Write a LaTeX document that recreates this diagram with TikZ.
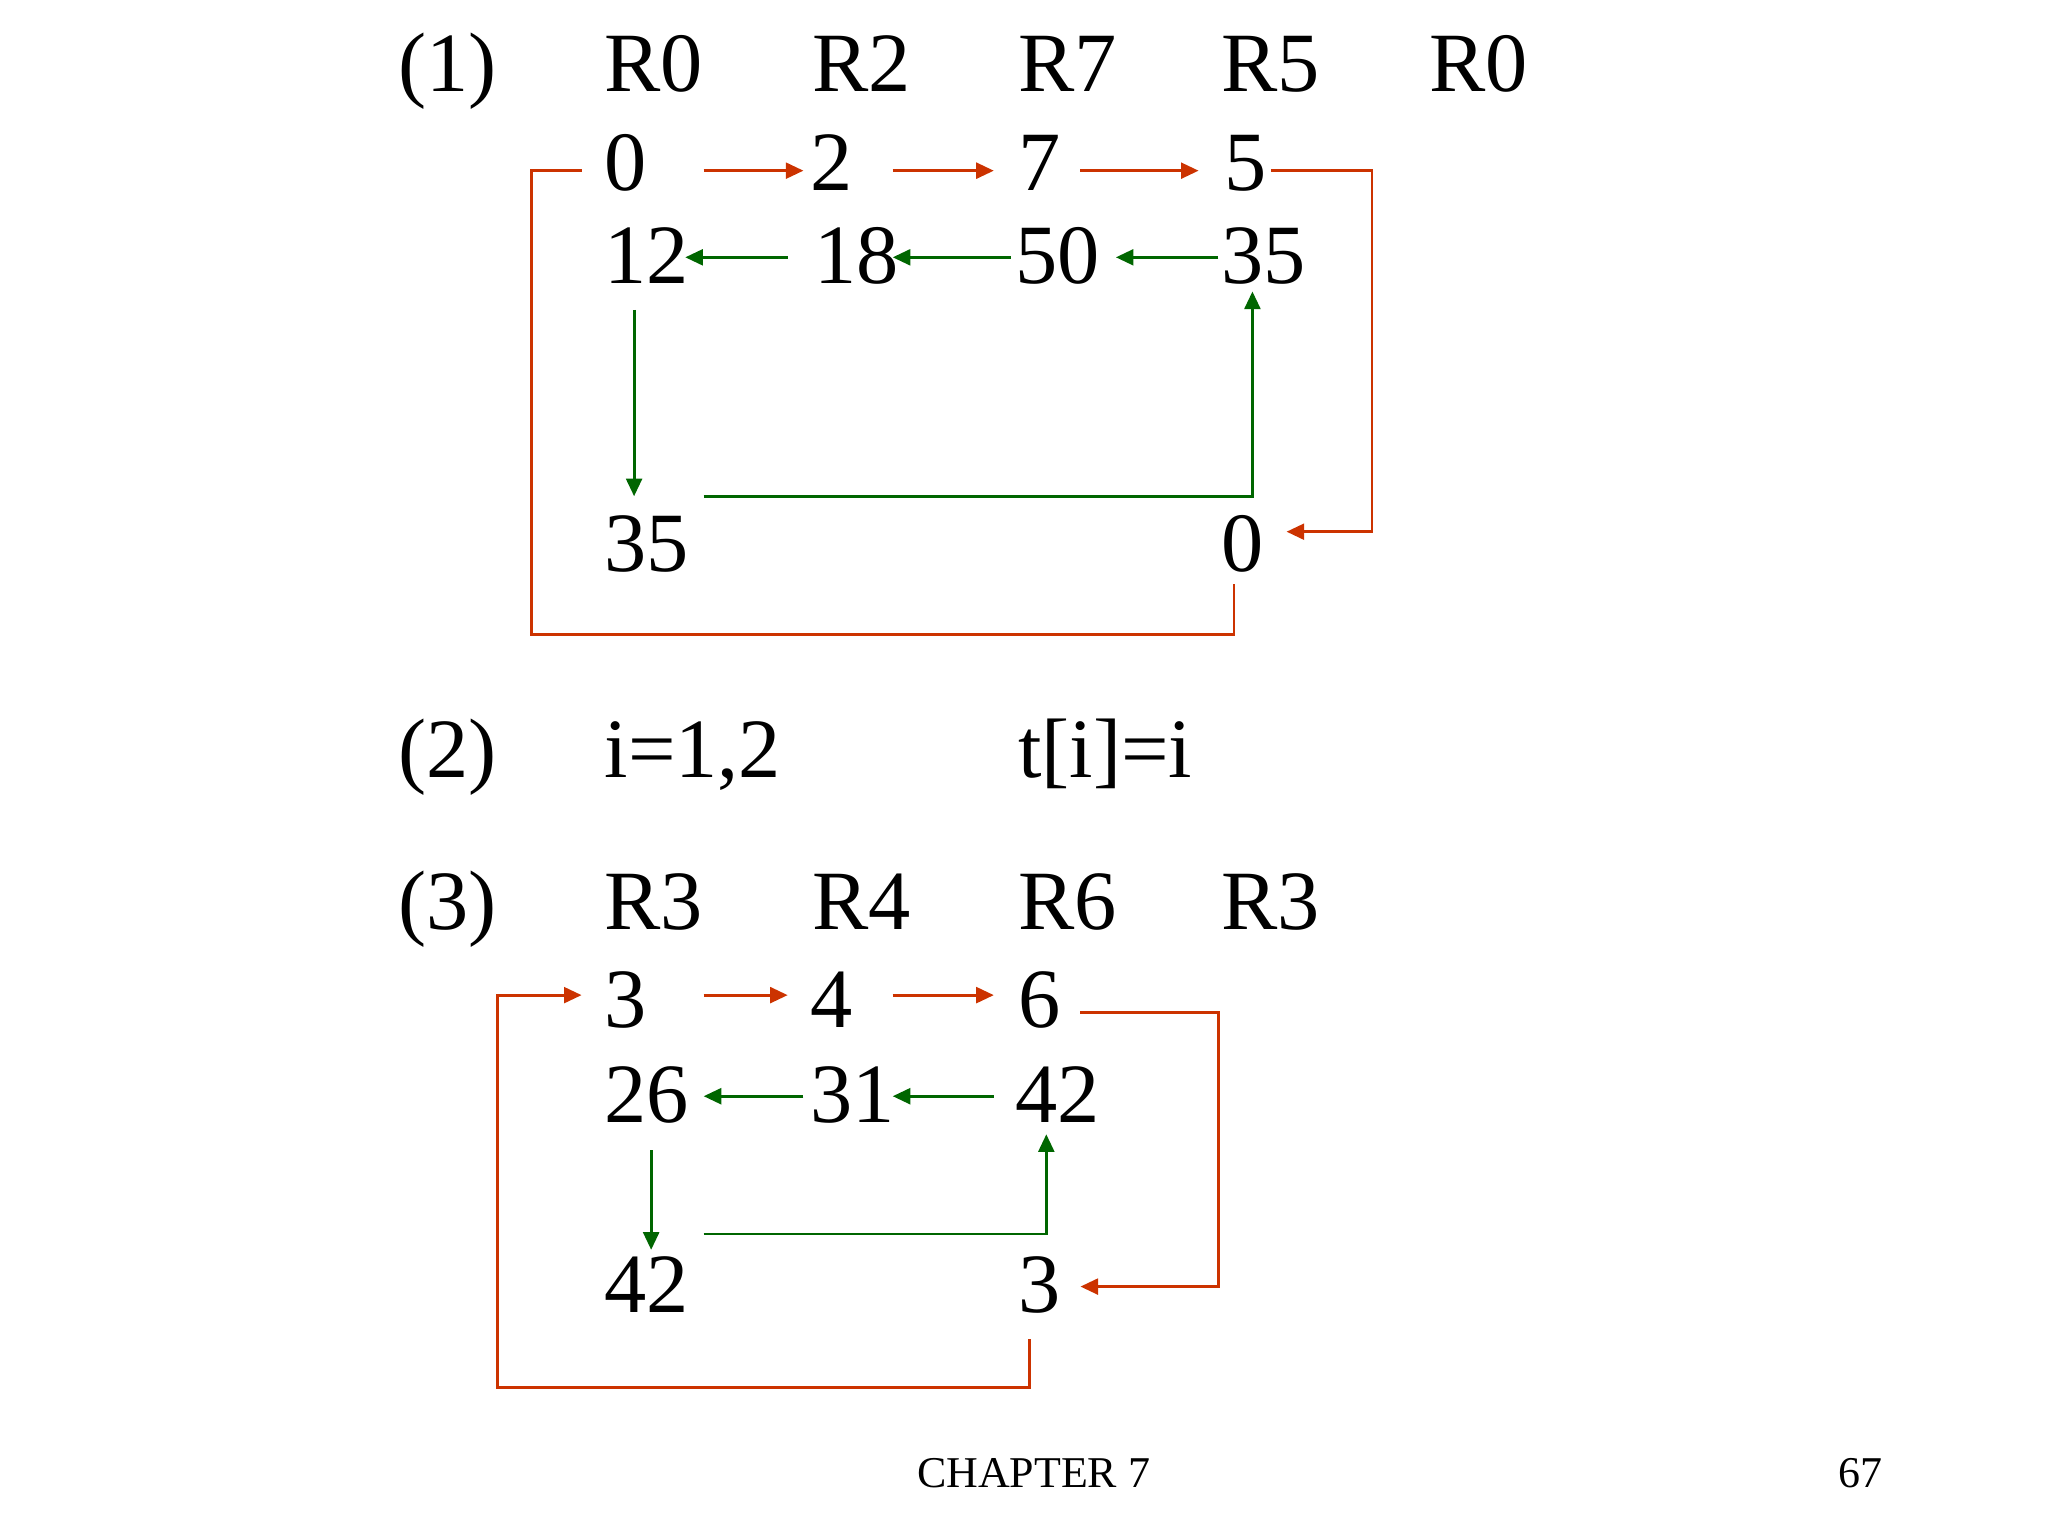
\documentclass[tikz,border=0pt]{standalone}
\usepackage{fontspec}
\setmainfont{Liberation Serif}
\usetikzlibrary{arrows.meta}
\definecolor{rd}{RGB}{204,51,0}
\definecolor{gn}{RGB}{0,102,0}
\begin{document}
\begin{tikzpicture}[x=0.013128cm,y=-0.013128cm,
  t/.style={anchor=base west,inner sep=0pt,font=\fontsize{24}{28}\selectfont},
  s/.style={anchor=base west,inner sep=0pt,font=\fontsize{12.5}{15}\selectfont},
  r/.style={draw=rd,line width=0.8pt,-{Triangle[length=5pt,width=4.5pt]}},
  rn/.style={draw=rd,line width=0.8pt},
  g/.style={draw=gn,line width=0.8pt,-{Triangle[length=5pt,width=4.5pt]}}]
\useasboundingbox (0,0) rectangle (1560,1170);
% (1)
\node[t] (l1) at (303,70) {(1)};
\foreach \x/\s [count=\i] in {460/R0,618/R2,775/R7,930/R5,1088/R0}{\node[t] (h\i) at (\x,70) {\s};}
\node[t] (a0) at (460,145) {0};
\node[t] (a2) at (617,145) {2};
\node[t] (a7) at (775,145) {7};
\node[t] (a5) at (932,145) {5};
\node[t] (b12) at (460,216) {12};
\node[t] (b18) at (620,216) {18};
\node[t] (b50) at (773,216) {50};
\node[t] (b35) at (930,216) {35};
\node[t] (c35) at (460,435) {35};
\node[t] (c0) at (930,435) {0};
\draw[r] (536,130) -- (612,130);
\draw[r] (680,130) -- (757,130);
\draw[r] (823,130) -- (913,130);
\draw[r] (968,130) -- (1045,130) -- (1045,405) -- (980,405);
\draw[rn] (940,445) -- (940,483) -- (405,483) -- (405,130) -- (443,130);
\draw[g] (600,196) -- (522,196);
\draw[g] (770,196) -- (680,196);
\draw[g] (928,196) -- (850,196);
\draw[g] (483,236) -- (483,378);
\draw[g] (536,378) -- (954,378) -- (954,222);
% (2)
\node[t] (l2) at (303,592) {(2)};
\node[t] (i) at (460,592) {i=1,2};
\node[t] (ti) at (775,592) {t[i]=i};
% (3)
\node[t] (l3) at (303,708) {(3)};
\foreach \x/\s [count=\i] in {460/R3,618/R4,775/R6,930/R3}{\node[t] (k\i) at (\x,708) {\s};}
\node[t] (d3) at (460,783) {3};
\node[t] (d4) at (617,783) {4};
\node[t] (d6) at (775,783) {6};
\node[t] (e26) at (460,855) {26};
\node[t] (e31) at (617,855) {31};
\node[t] (e42) at (773,855) {42};
\node[t] (f42) at (460,1000) {42};
\node[t] (f3) at (775,1000) {3};
\draw[r] (536,758) -- (600,758);
\draw[r] (680,758) -- (757,758);
\draw[r] (823,771) -- (928,771) -- (928,980) -- (823,980);
\draw[r] (784,1020) -- (784,1057) -- (379,1057) -- (379,758) -- (443,758);
\draw[g] (612,835) -- (536,835);
\draw[g] (757,835) -- (680,835);
\draw[g] (496,876) -- (496,952);
\draw[g] (536,940) -- (797,940) -- (797,864);
\node[s] (ch) at (698,1133) {CHAPTER 7};
\node[s] (pg) at (1400,1133) {67};
\end{tikzpicture}
\end{document}
